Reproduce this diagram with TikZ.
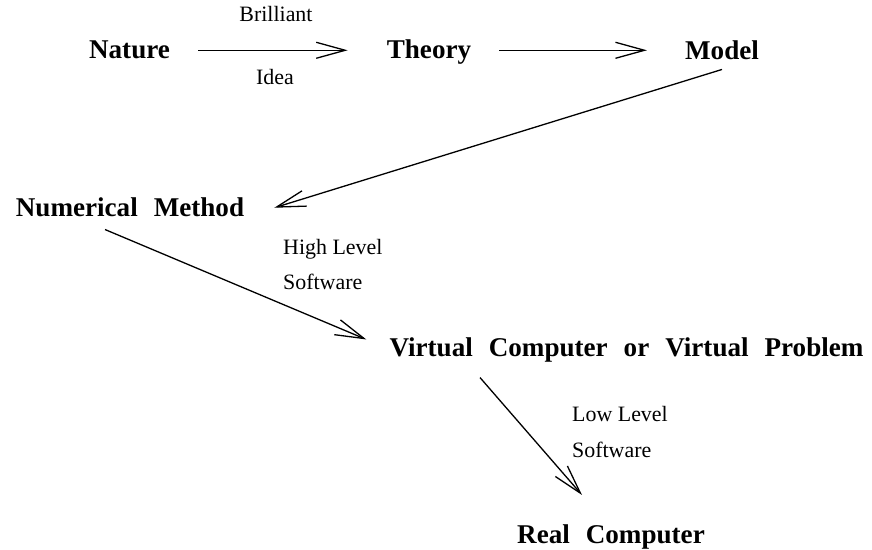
\documentclass[tikz,border=0pt]{standalone}
\usepackage{fontspec}
\setmainfont{Liberation Serif}
\usepackage{tikz}
\usetikzlibrary{arrows.meta}
\newcommand{\wsp}{\hspace{16bp}}

\begin{document}
\begin{tikzpicture}[
  arr/.style={-{Straight Barb[length=29bp,width=16bp]},line width=1.3bp},
  bigtext/.style={font=\bfseries\fontsize{27.2}{32}\selectfont,inner sep=0pt,anchor=base},
  smalltext/.style={font=\fontsize{22}{26}\selectfont,inner sep=0pt,anchor=base},
  ]
\useasboundingbox (0bp,0bp) rectangle (872bp,550bp);
%%
\node (node_nature) at (129.5bp,491bp) [bigtext] {Nature};
  \node (node_theory) at (429bp,491bp) [bigtext] {Theory};
  \node (node_model) at (722bp,490bp) [bigtext] {Model};
  \node (node_brilliant) at (276bp,528bp) [smalltext] {Brilliant};
  \node (node_idea) at (275bp,465bp) [smalltext] {Idea};
  \node (node_numerical) at (130bp,333bp) [bigtext] {Numerical\wsp Method};
  \node (node_high) at (283bp,295bp) [smalltext,anchor=base west] {High Level};
  \node (node_soft_1) at (283bp,260bp) [smalltext,anchor=base west] {Software};
  \node (node_virtual) at (626.5bp,193bp) [bigtext] {Virtual\wsp Computer\wsp or\wsp Virtual\wsp Problem};
  \node (node_low) at (572bp,128bp) [smalltext,anchor=base west] {Low Level};
  \node (node_soft_2) at (572bp,92bp) [smalltext,anchor=base west] {Software};
  \node (node_real) at (611bp,7bp) [bigtext] {Real\wsp Computer};
  \draw [arr,shorten <=28bp,shorten >=39bp] (node_nature.east) -- (node_nature.east -| node_theory.west);
  \draw [arr,shorten <=28bp,shorten >=38bp] (node_theory.east |- node_nature.east) -- (node_model.west |- node_nature.east);
  \draw [arr] ([yshift=-9bp]node_model.south) -- ([xshift=30bp]node_numerical.east);
  \draw [arr] ([xshift=-25bp,yshift=-12bp]node_numerical.south) -- ([xshift=-23bp,yshift=11bp]node_virtual.west);
  \draw [arr] ([xshift=-146.5bp,yshift=-14.6bp]node_virtual.south) -- ([xshift=-29bp,yshift=29bp]node_real.north);
%
\end{tikzpicture}
\end{document}
